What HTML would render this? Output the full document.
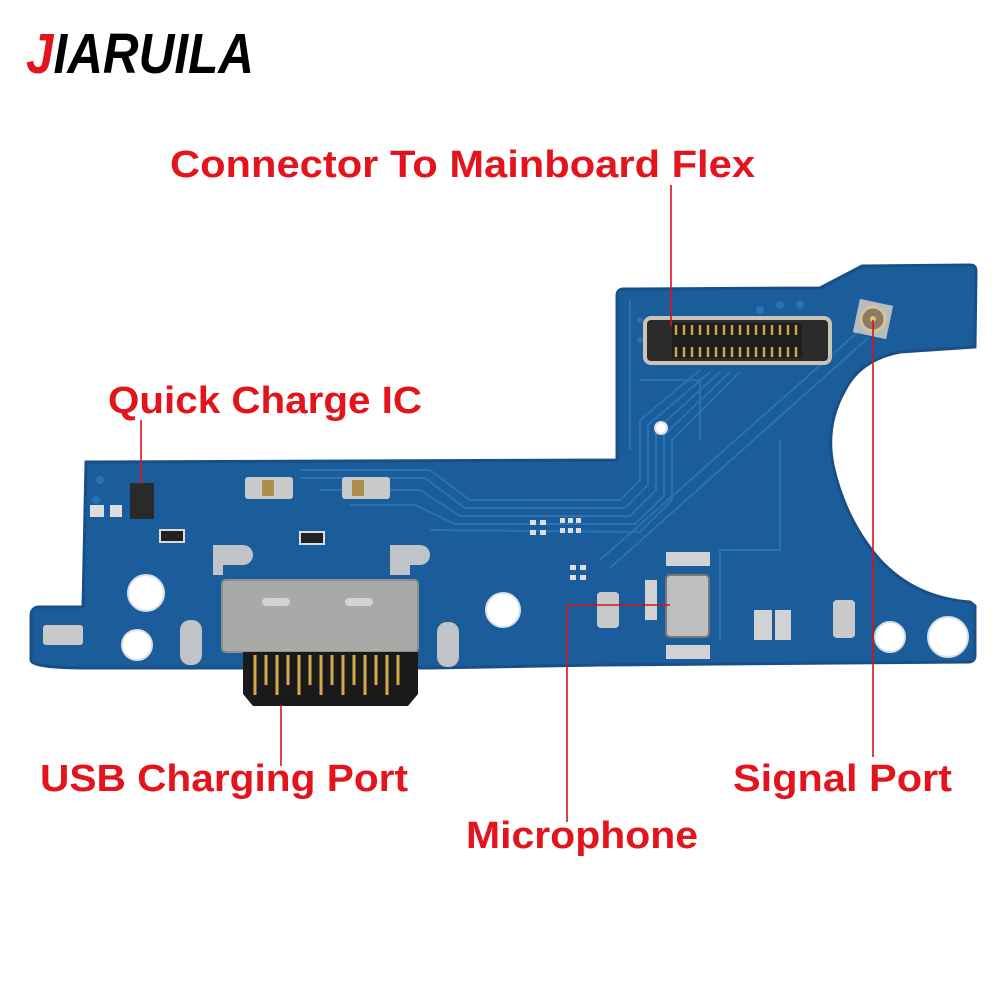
<!DOCTYPE html>
<html><head><meta charset="utf-8"><style>
html,body{margin:0;padding:0;background:#fff;width:1000px;height:1000px;overflow:hidden}
</style></head><body>
<svg width="1000" height="1000" viewBox="0 0 1000 1000" xmlns="http://www.w3.org/2000/svg">
<rect width="1000" height="1000" fill="#fff"/>
<!-- logo -->
<text x="26" y="73" font-family="Liberation Sans, sans-serif" font-weight="bold" font-style="italic" font-size="57" textLength="228" lengthAdjust="spacingAndGlyphs"><tspan fill="#e3141b">J</tspan><tspan fill="#000">IARUILA</tspan></text>

<!-- board -->
<path d="M86 462 L617 460 L617 296 Q617 289 624 289 L820 288 L862 266 L970 265 Q976 265 976 271 L975 347 L900 352 Q860 360 845 390 Q825 425 833 465 Q845 520 880 560 Q915 598 970 602 L975 606 L975 655 Q975 662 968 662 L600 665 L430 668 L90 668 Q31 668 31 660 L31 616 Q31 607 40 607 L83 607 Z" fill="#1b5c9a" stroke="#174f86" stroke-width="3"/>
<!-- traces -->
<g fill="none" stroke="#2a72b3" stroke-width="2">
<path d="M300 470 L430 470 L470 500 L620 500 L640 480 L640 420 L700 370"/>
<path d="M300 478 L425 478 L465 508 L625 508 L648 485 L648 425 L710 372"/>
<path d="M320 490 L420 490 L460 516 L630 516 L656 490 L656 430 L720 372"/>
<path d="M350 505 L415 505 L455 524 L635 524 L664 496 L664 435 L730 372"/>
<path d="M430 530 L640 532 L672 500 L672 440 L740 372"/>
<path d="M600 560 L860 330"/>
<path d="M610 568 L868 338"/>
<path d="M630 300 L630 450"/>
<path d="M640 380 L700 380 L700 440"/>
<path d="M720 640 L720 550 L780 550 L780 440"/>
</g>
<g fill="#2a72b3">
<circle cx="100" cy="480" r="4"/><circle cx="96" cy="500" r="4"/><circle cx="640" cy="320" r="3"/><circle cx="640" cy="340" r="3"/>
<circle cx="760" cy="310" r="4"/><circle cx="780" cy="305" r="4"/><circle cx="800" cy="305" r="4"/>
</g>
<!-- holes -->
<g fill="#fff" stroke="#d9dfe6" stroke-width="2">
<circle cx="146" cy="593" r="18"/><circle cx="137" cy="645" r="15"/><circle cx="503" cy="610" r="17"/>
<circle cx="890" cy="637" r="15"/><circle cx="948" cy="637" r="20"/><circle cx="661" cy="428" r="6"/>
</g>
<!-- FPC connector -->
<rect x="645" y="318" width="185" height="45" rx="6" fill="#2b2b2b" stroke="#c9c4b8" stroke-width="4"/>
<rect x="672" y="323" width="130" height="35" fill="#1e1e1e"/>
<g stroke="#c9a24a" stroke-width="2.5">
<path d="M676 325v10M684 325v10M692 325v10M700 325v10M708 325v10M716 325v10M724 325v10M732 325v10M740 325v10M748 325v10M756 325v10M764 325v10M772 325v10M780 325v10M788 325v10M796 325v10"/>
<path d="M676 347v10M684 347v10M692 347v10M700 347v10M708 347v10M716 347v10M724 347v10M732 347v10M740 347v10M748 347v10M756 347v10M764 347v10M772 347v10M780 347v10M788 347v10M796 347v10"/>
</g>
<!-- antenna -->
<rect x="856" y="302" width="34" height="34" fill="#b9bcbf" transform="rotate(12 873 319)"/>
<circle cx="873" cy="319" r="12" fill="#8a7b62" stroke="#d6c39a" stroke-width="3"/>
<circle cx="873" cy="319" r="3" fill="#e2c27a"/>
<!-- small comps -->
<rect x="130" y="483" width="24" height="36" fill="#2a2a2a"/>
<rect x="245" y="477" width="48" height="22" rx="3" fill="#c7c9cb"/><rect x="262" y="480" width="12" height="16" fill="#b08d4a"/>
<rect x="342" y="477" width="48" height="22" rx="3" fill="#c7c9cb"/><rect x="352" y="480" width="12" height="16" fill="#b08d4a"/>
<rect x="300" y="532" width="24" height="12" fill="#222" stroke="#ddd" stroke-width="2"/>
<rect x="160" y="530" width="24" height="12" fill="#222" stroke="#ddd" stroke-width="2"/>
<rect x="90" y="505" width="14" height="12" fill="#ddd"/><rect x="110" y="505" width="12" height="12" fill="#ddd"/>
<rect x="43" y="625" width="40" height="20" rx="3" fill="#c7c9cb"/>
<path d="M213 545 h30 a10 10 0 0 1 0 20 h-20 v10 h-10z" fill="#c0c4c8"/>
<path d="M390 545 h30 a10 10 0 0 1 0 20 h-10 v10 h-20z" fill="#c0c4c8"/>
<rect x="180" y="620" width="22" height="45" rx="10" fill="#c0c4c8"/>
<rect x="437" y="622" width="22" height="45" rx="10" fill="#c0c4c8"/>
<!-- USB port -->
<rect x="222" y="580" width="196" height="72" rx="4" fill="#a9a9a7" stroke="#8e8e8c" stroke-width="2"/>
<rect x="262" y="598" width="28" height="8" rx="4" fill="#d4d4d2"/><rect x="345" y="598" width="28" height="8" rx="4" fill="#d4d4d2"/>
<path d="M243 652 h175 v42 l-10 12 h-155 l-10-12z" fill="#1a1a1a"/>
<g stroke="#d4a94e" stroke-width="3">
<path d="M255 655v40M266 655v30M277 655v40M288 655v30M299 655v40M310 655v30M321 655v40M332 655v30M343 655v40M354 655v30M365 655v40M376 655v30M387 655v40M398 655v30"/>
</g>
<!-- mic area -->
<rect x="666" y="575" width="43" height="62" rx="4" fill="#bdbfc0" stroke="#777" stroke-width="2"/>
<rect x="666" y="552" width="44" height="14" fill="#d0d2d3"/><rect x="666" y="645" width="44" height="14" fill="#d0d2d3"/>
<rect x="645" y="580" width="12" height="40" fill="#d0d2d3"/>
<rect x="597" y="592" width="22" height="36" rx="4" fill="#c7c9cb"/>
<rect x="754" y="610" width="18" height="30" fill="#d0d2d3"/><rect x="775" y="610" width="16" height="30" fill="#d0d2d3"/>
<rect x="833" y="600" width="22" height="38" rx="4" fill="#c7c9cb"/>
<g fill="#ddd"><rect x="530" y="520" width="6" height="5"/><rect x="540" y="520" width="6" height="5"/><rect x="530" y="530" width="6" height="5"/><rect x="540" y="530" width="6" height="5"/><rect x="560" y="518" width="5" height="5"/><rect x="568" y="518" width="5" height="5"/><rect x="576" y="518" width="5" height="5"/><rect x="560" y="528" width="5" height="5"/><rect x="568" y="528" width="5" height="5"/><rect x="576" y="528" width="5" height="5"/><rect x="570" y="565" width="6" height="5"/><rect x="580" y="565" width="6" height="5"/><rect x="570" y="575" width="6" height="5"/><rect x="580" y="575" width="6" height="5"/></g>

<!-- leader lines -->
<g stroke="#d8121c" stroke-width="1.6" fill="none">
<path d="M671 185 V326"/>
<path d="M141 420 V484"/>
<path d="M281 705 V766"/>
<path d="M670 605 H567 V822"/>
<path d="M873 320 V757"/>
</g>
<!-- labels -->
<g font-family="Liberation Sans, sans-serif" font-weight="bold" font-size="38" fill="#e3141b" lengthAdjust="spacingAndGlyphs">
<text x="170" y="177" textLength="585" lengthAdjust="spacingAndGlyphs">Connector To Mainboard Flex</text>
<text x="108" y="413" textLength="314" lengthAdjust="spacingAndGlyphs">Quick Charge IC</text>
<text x="40" y="791" textLength="368" lengthAdjust="spacingAndGlyphs">USB Charging Port</text>
<text x="733" y="791" textLength="219" lengthAdjust="spacingAndGlyphs">Signal Port</text>
<text x="466" y="848" textLength="232" lengthAdjust="spacingAndGlyphs">Microphone</text>
</g>
</svg>
</body></html>
